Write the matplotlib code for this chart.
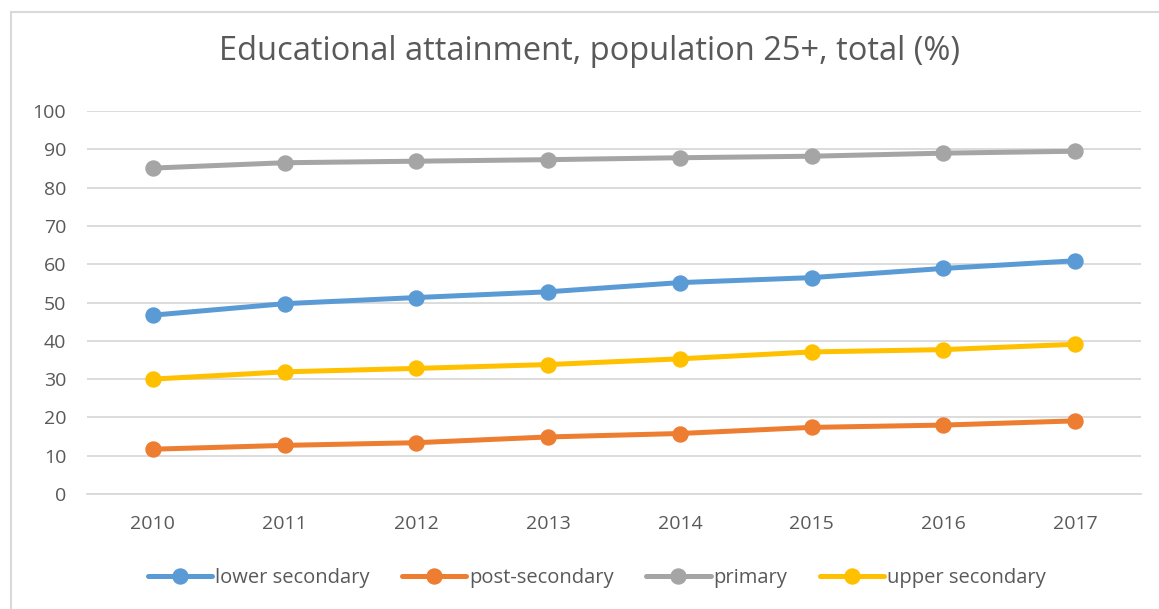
import matplotlib
matplotlib.use("Agg")
import matplotlib.pyplot as plt
from matplotlib.patches import Rectangle

plt.rcParams['font.family'] = ['Open Sans', 'DejaVu Sans']

# data
years = ['2010', '2011', '2012', '2013', '2014', '2015', '2016', '2017']
lower_secondary = [46.7, 49.7, 51.3, 52.8, 55.2, 56.5, 58.9, 60.9]
post_secondary = [11.7, 12.7, 13.4, 14.9, 15.8, 17.4, 18.0, 19.1]
primary = [85.1, 86.5, 86.9, 87.3, 87.8, 88.2, 89.0, 89.5]
upper_secondary = [30.0, 31.9, 32.8, 33.8, 35.3, 37.1, 37.7, 39.1]

series = [
    ('lower secondary', lower_secondary, '#5B9BD5'),
    ('post-secondary', post_secondary, '#ED7D31'),
    ('primary', primary, '#A5A5A5'),
    ('upper secondary', upper_secondary, '#FFC000'),
]
text_col = '#595959'
grid_col = '#D9D9D9'

fig = plt.figure(figsize=(11.59, 6.09), dpi=100)
ax = fig.add_axes([0.0751, 0.1888, 0.9094, 0.6289])

x = range(len(years))
for name, vals, col in series:
    ax.plot(x, vals, color=col, lw=3.6, marker='o', markersize=10.8,
            label=name, solid_capstyle='round')

ax.set_xlim(-0.5, len(years) - 0.5)
ax.set_ylim(0, 100)
ax.set_yticks(range(0, 101, 10))
ax.set_xticks(list(x))
ax.set_xticklabels(years)
ax.yaxis.grid(True, color=grid_col, lw=1.3)
ax.set_axisbelow(True)
for s in ['top', 'right', 'left']:
    ax.spines[s].set_visible(False)
ax.spines['bottom'].set_color(grid_col)
ax.spines['bottom'].set_linewidth(1.3)
ax.tick_params(axis='both', length=0, colors=text_col, labelsize=14)
ax.tick_params(axis='x', pad=15)
ax.tick_params(axis='y', pad=15)

fig.text(0.509, 1 - 52 / 609, 'Educational attainment, population 25+, total (%)',
         ha='center', va='center', fontsize=23.5, color=text_col)

leg = fig.legend(loc='center', bbox_to_anchor=(0.515, 1 - 578 / 609), ncol=4,
                 frameon=False, fontsize=14.5, handlelength=3.2,
                 handletextpad=0.15, columnspacing=1.6)
for t in leg.get_texts():
    t.set_color(text_col)

# chart border
fig.patches.append(Rectangle((11 / 1159, -0.02), 1.05, 1 - 12 / 609 + 0.02,
                             transform=fig.transFigure, fill=False,
                             edgecolor=grid_col, lw=1.5))

fig.savefig('out.png', dpi=100)
